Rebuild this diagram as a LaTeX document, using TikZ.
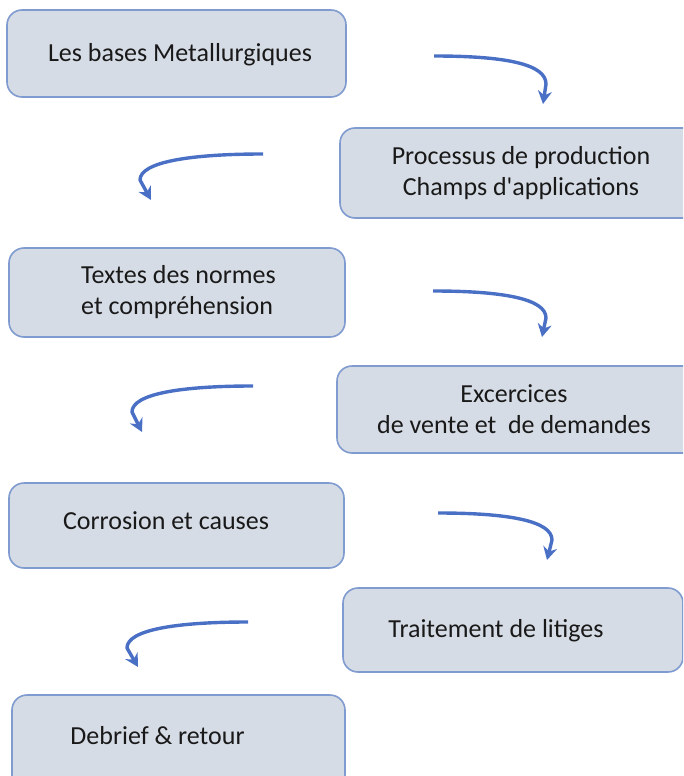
\documentclass[tikz,border=0pt]{standalone}
\usepackage{fontspec}
\setmainfont{Carlito}
\usetikzlibrary{arrows.meta}
\definecolor{boxfill}{HTML}{D6DCE5}
\definecolor{boxline}{HTML}{7F9BD0}
\definecolor{arrowblue}{HTML}{4A70C6}
\begin{document}
\begin{tikzpicture}[x=1pt,y=-1pt,
  box/.style={draw=boxline, fill=boxfill, line width=1.6pt, rounded corners=15pt,
              inner sep=0pt, outer sep=0pt},
  lbl/.style={font=\fontsize{26}{31}\selectfont, text=black!90, inner sep=0pt},
  flow/.style={draw=arrowblue, line width=3.4pt, line join=round, -{Stealth[length=13pt,width=14pt]}}]
\useasboundingbox (0,0) rectangle (683,776);
\clip (0,0) rectangle (683,776);
% boxes
\node[box, minimum width=339pt, minimum height=87pt] (b1) at (176.5,53.5) {};
\node[box, minimum width=360pt, minimum height=90pt] (b2) at (520,173) {};
\node[box, minimum width=336pt, minimum height=89pt] (b3) at (177,292.5) {};
\node[box, minimum width=363pt, minimum height=87pt] (b4) at (518.5,409.5) {};
\node[box, minimum width=335pt, minimum height=85pt] (b5) at (176.5,525.5) {};
\node[box, minimum width=340pt, minimum height=84pt] (b6) at (513,630) {};
\node[box, minimum width=333pt, minimum height=95pt] (b7) at (178.5,742.5) {};
% labels
\node[lbl] (t1) at (180,55) {Les bases Metallurgiques};
\node[lbl, align=center] (t2) at (521,173) {Processus de production\\Champs d\textquotesingle applications};
\node[lbl, align=left, anchor=west] (t3) at (81,292) {Textes des normes\\et compréhension};
\node[lbl, align=center] (t4) at (514,409) {Excercices\\de vente et~~de demandes};
\node[lbl] (t5) at (166,521) {Corrosion et causes};
\node[lbl] (t6) at (496,631) {Traitement de litiges};
\node[lbl] (t7) at (157.5,736) {Debrief \& retour};
% arrows
\coordinate (a1s) at (434,56);  \coordinate (a1e) at (543,104);
\coordinate (a2s) at (263,154); \coordinate (a2e) at (151,200);
\coordinate (a3s) at (433,291); \coordinate (a3e) at (542,337);
\coordinate (a4s) at (253,386); \coordinate (a4e) at (142,432);
\coordinate (a5s) at (438,513); \coordinate (a5e) at (547,560);
\coordinate (a6s) at (248,622); \coordinate (a6e) at (138,667);
\draw[flow] (a1s) .. controls (505,56) and (546,64) .. (546,84) -- (a1e);
\draw[flow] (a2s) .. controls (190,154) and (140,162) .. (140,180) -- (a2e);
\draw[flow] (a3s) .. controls (504,291) and (546,299) .. (546,318) -- (a3e);
\draw[flow] (a4s) .. controls (180,386) and (132,394) .. (132,412) -- (a4e);
\draw[flow] (a5s) .. controls (509,513) and (552,521) .. (552,540) -- (a5e);
\draw[flow] (a6s) .. controls (175,622) and (127,630) .. (127,648) -- (a6e);
\end{tikzpicture}
\end{document}
